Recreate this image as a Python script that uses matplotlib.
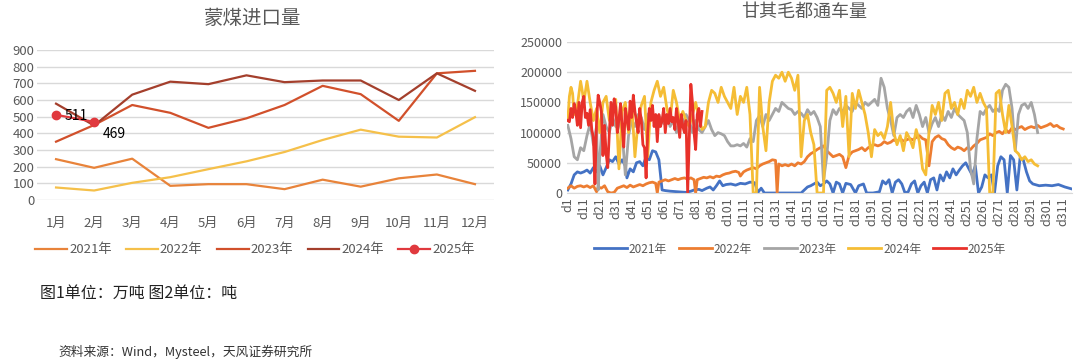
import matplotlib.pyplot as plt
import numpy as np

plt.rcParams['font.family'] = ['Noto Sans CJK SC', 'DejaVu Sans']

# 图1 蒙煤进口量 (万吨)
months = [f"{m}月" for m in range(1, 13)]
imp_2021 = [245, 193, 248, 85, 95, 95, 65, 122, 80, 130, 153, 95]
imp_2022 = [75, 57, 103, 137, 185, 232, 288, 360, 422, 380, 375, 497]
imp_2023 = [350, 450, 570, 523, 433, 490, 570, 685, 635, 475, 760, 775]
imp_2024 = [578, 447, 632, 710, 695, 748, 707, 717, 717, 600, 760, 655]
imp_2025 = [511, 469]

# 图2 甘其毛都通车量 (千吨, 按日)
days_2021 = [1, 3, 5, 7, 9, 11, 13, 15, 17, 19, 21, 23, 25, 27, 29, 31, 33, 35, 37, 38, 40, 42, 44, 46, 48,
             50, 52, 54, 56, 58, 60, 62, 65, 70, 75, 78, 80, 83, 85, 88, 90, 92, 94, 96, 98, 100, 103, 106,
             109, 112, 115, 118, 120, 122, 124, 130, 140, 147, 149, 151, 153, 155, 157, 159, 161, 163, 165,
             167, 169, 171, 173, 175, 178, 181, 183, 186, 188, 192, 196, 198, 200, 202, 204, 206, 208, 210,
             212, 214, 216, 218, 220, 222, 224, 226, 228, 230, 232, 234, 236, 238, 240, 242, 244, 246, 248,
             250, 252, 254, 256, 258, 260, 262, 264, 266, 268, 270, 272, 274, 276, 278, 280, 282, 284, 286,
             288, 290, 292, 296, 300, 304, 308, 312, 316]
vals_2021 = [5, 15, 30, 35, 33, 35, 38, 33, 42, 35, 45, 30, 42, 55, 52, 60, 48, 55, 45, 25, 40, 35, 50, 52, 45,
             60, 55, 70, 68, 55, 5, 4, 3, 2, 1, 3, 5, 6, 4, 8, 10, 5, 12, 20, 12, 14, 15, 13,
             16, 15, 18, 17, 1, 8, 0, 0, 0, 0, 5, 10, 12, 15, 18, 12, 15, 20, 15,
             0, 18, 15, 0, 16, 14, 0, 12, 15, 0, 0, 2, 20, 15, 22, 0, 18, 22, 15,
             0, 2, 15, 20, 0, 12, 18, 0, 22, 25, 5, 30, 20, 35, 25, 40, 30, 38, 45,
             50, 40, 30, 45, 0, 10, 30, 25, 30, 0, 45, 60, 55, 0, 62, 55, 5, 58, 55,
             35, 20, 15, 12, 13, 12, 14, 10, 7]

days_2022 = [1, 3, 5, 7, 9, 11, 13, 15, 17, 19, 20, 22, 24, 26, 28, 30, 32, 34, 36, 38, 40, 42, 44, 46, 48,
             50, 52, 54, 56, 57, 58, 60, 62, 64, 66, 68, 70, 72, 74, 76, 78, 80, 81, 82, 84, 86, 88, 90, 92,
             94, 96, 98, 100, 102, 104, 106, 108, 109, 111, 113, 115, 117, 119, 121, 123, 125, 127, 129, 131,
             132, 133, 135, 137, 139, 141, 143, 145, 147, 149, 151, 153, 155, 157, 159, 161, 163, 165, 167,
             169, 171, 173, 175, 177, 179, 181, 183, 185, 187, 189, 191, 193, 195, 197, 199, 201, 203, 205,
             207, 209, 211, 213, 215, 217, 219, 221, 223, 225, 227, 229, 231, 233, 235, 237, 239, 241, 243,
             245, 247, 249, 251, 253, 255, 257, 259, 261, 263, 265, 267, 269, 271, 273, 275, 277, 279, 281,
             283, 285, 287, 289, 291, 293, 295, 297, 299, 301, 303, 305, 307, 309, 311]
vals_2022 = [8, 12, 8, 11, 12, 10, 12, 9, 12, 2, 10, 8, 12, 2, 0, 1, 8, 10, 12, 9, 13, 10, 12, 14, 12,
             15, 17, 18, 16, 0, 18, 20, 22, 20, 22, 24, 22, 24, 25, 23, 25, 22, 0, 22, 24, 26, 25, 27, 25,
             28, 27, 30, 32, 33, 35, 36, 34, 28, 35, 38, 40, 42, 40, 45, 48, 50, 52, 55, 54,
             0, 48, 45, 47, 45, 48, 45, 50, 48, 52, 60, 65, 68, 72, 75, 78, 70, 65, 60,
             62, 64, 60, 42, 62, 68, 70, 72, 75, 70, 75, 78, 80, 78, 80, 85, 82, 84, 88,
             85, 90, 86, 88, 90, 88, 92, 95, 90, 88, 45, 85, 92, 95, 90, 88, 80, 75, 72,
             76, 74, 70, 75, 72, 78, 82, 88, 90, 92, 98, 95, 100, 102, 98, 105, 100, 108, 105,
             108, 110, 105, 108, 110, 108, 112, 108, 110, 112, 115, 110, 112, 108, 106]

days_2023 = [1, 3, 5, 7, 9, 11, 13, 15, 17, 19, 20, 21, 23, 25, 27, 29, 31, 33, 35, 37, 39, 41, 43, 45, 47,
             49, 51, 53, 55, 57, 59, 61, 63, 65, 67, 69, 71, 73, 75, 77, 79, 81, 83, 85, 87, 89, 91, 93, 95,
             97, 99, 101, 103, 105, 107, 109, 111, 113, 115, 117, 119, 121, 123, 125, 127, 129, 131, 133, 135,
             137, 139, 141, 143, 145, 147, 149, 151, 153, 155, 157, 159, 161, 163, 165, 167, 169, 171, 173,
             175, 177, 179, 181, 183, 185, 187, 189, 191, 193, 195, 197, 199, 201, 203, 205, 207, 209, 211,
             213, 215, 217, 219, 221, 223, 225, 227, 229, 231, 233, 235, 237, 239, 241, 243, 245, 247, 249,
             251, 253, 255, 257, 259, 261, 263, 265, 267, 269, 271, 273, 275, 277, 279, 281, 283, 285, 287,
             289, 291, 293, 295]
vals_2023 = [112, 90, 60, 55, 75, 70, 95, 115, 80, 110, 5, 60, 130, 110, 100, 125, 110, 120, 100, 30, 95, 120,
             110, 130, 125, 105, 130, 135, 120, 105, 125, 115, 130, 110, 120, 100, 125, 115, 130, 120, 100,
             120, 105, 100, 110, 120, 105, 95, 100, 98, 95, 85, 78, 78, 80, 78, 82, 76, 90, 85, 120, 128,
             110, 130, 120, 130, 140, 135, 150, 145, 140, 138, 130, 135, 132, 125, 138, 130, 135, 125, 110,
             20, 60, 120, 138, 130, 140, 135, 145, 140, 135, 150, 145, 140, 150, 145, 150, 155, 145, 190,
             175, 140, 120, 95, 125, 130, 125, 135, 140, 125, 145, 130, 110, 125, 100, 115, 125, 110, 130,
             120, 135, 125, 140, 130, 125, 120, 100, 40, 15, 90, 135, 130, 140, 145, 135, 140, 135, 170,
             180, 175, 140, 70, 130, 145, 148, 140, 150, 130, 100]

days_2024 = [1, 2, 3, 4, 5, 7, 9, 10, 11, 13, 15, 17, 19, 21, 23, 25, 27, 29, 31, 33, 35, 37, 39, 41, 43,
             45, 47, 49, 51, 53, 55, 57, 59, 61, 63, 65, 67, 69, 71, 73, 75, 77, 79, 81, 83, 85, 87, 89, 91,
             93, 95, 97, 99, 101, 103, 105, 107, 109, 111, 113, 115, 117, 119, 121, 123, 125, 127, 129, 131,
             133, 135, 137, 139, 141, 143, 145, 147, 149, 151, 153, 155, 157, 159, 161, 163, 165, 167, 169,
             171, 173, 175, 177, 179, 181, 183, 185, 187, 189, 191, 193, 195, 197, 199, 201, 203, 205, 207,
             209, 211, 213, 215, 217, 219, 221, 223, 225, 227, 229, 231, 233, 235, 237, 239, 241, 243, 245,
             247, 249, 251, 253, 255, 257, 259, 261, 263, 265, 267, 269, 271, 273, 275, 277, 279, 281, 283,
             285, 287, 289, 291, 293, 295]
vals_2024 = [120, 160, 175, 165, 130, 145, 185, 170, 150, 185, 150, 120, 140, 100, 150, 160, 120, 135, 155,
             40, 135, 150, 100, 150, 60, 120, 145, 160, 60, 150, 170, 185, 160, 175, 140, 120, 170, 150,
             120, 135, 120, 110, 130, 150, 125, 105, 110, 150, 170, 165, 150, 175, 160, 150, 140, 175, 130,
             160, 150, 175, 130, 0, 0, 175, 110, 70, 150, 185, 195, 190, 200, 185, 200, 190, 170, 195, 60,
             120, 130, 100, 80, 0, 0, 0, 170, 175, 165, 150, 170, 110, 160, 60, 165, 140, 170, 150, 130,
             100, 60, 105, 95, 100, 90, 110, 150, 100, 80, 95, 70, 100, 90, 75, 105, 85, 40, 30, 100, 145,
             130, 150, 120, 165, 170, 140, 150, 130, 155, 140, 170, 160, 175, 150, 165, 150, 140, 0, 0, 165,
             170, 130, 100, 145, 110, 70, 65, 55, 60, 52, 55, 48, 45]

vals_2025 = [120, 118, 140, 125, 148, 135, 112, 150, 108, 150,
             160, 125, 132, 112, 138, 105, 92, 15, 120, 162,
             150, 135, 62, 112, 65, 42, 100, 150, 112, 156,
             142, 100, 122, 148, 110, 76, 140, 122, 105, 152,
             125, 162, 135, 118, 100, 140, 120, 80, 75, 25,
             100, 140, 120, 145, 110, 130, 85, 130, 110, 120,
             140, 100, 130, 115, 140, 118, 125, 105, 140, 120,
             92, 130, 110, 100, 120, 0, 90, 180, 150, 100,
             72, 130, 140, 110, 135]
days_2025 = list(range(1, len(vals_2025) + 1))

day_labels = [f"d{d}" for d in range(1, 312, 10)]

grey = '#595959'
grid_c = '#d9d9d9'

fig = plt.figure(figsize=(10.8, 3.63), dpi=100)

# ---------- 左图 ----------
ax1 = fig.add_axes([37 / 1080, 1 - 200 / 363, 457 / 1080, 150 / 363])
x = np.arange(1, 13)
ax1.plot(x, imp_2021, color='#e8833a', lw=1.6, label='2021年')
ax1.plot(x, imp_2022, color='#f5c04a', lw=1.6, label='2022年')
ax1.plot(x, imp_2023, color='#d1502b', lw=1.6, label='2023年')
ax1.plot(x, imp_2024, color='#a43f2c', lw=1.6, label='2024年')
ax1.plot(x[:len(imp_2025)], imp_2025, color='#e0393e', lw=1.6, marker='o', ms=6, label='2025年')
ax1.annotate(f"{imp_2025[0]}", (1, imp_2025[0]), xytext=(6, -1), textcoords='offset points',
             ha='left', va='center', fontsize=10, color='black')
ax1.annotate(f"{imp_2025[1]}", (2, imp_2025[1]), xytext=(6, -9), textcoords='offset points',
             ha='left', va='center', fontsize=10, color='black')
ax1.set_xlim(0.5, 12.5)
ax1.set_ylim(0, 900)
ax1.set_yticks(range(0, 901, 100))
ax1.set_xticks(x)
ax1.set_xticklabels(months)
ax1.grid(axis='y', color=grid_c, lw=1)
ax1.set_axisbelow(True)
for s in ax1.spines.values():
    s.set_visible(False)
ax1.tick_params(length=0, labelsize=9.5, colors=grey)
ax1.tick_params(axis='x', pad=12)
ax1.tick_params(axis='y', pad=2)
fig.text(253 / 1080, 1 - 18 / 363, '蒙煤进口量', ha='center', va='center', fontsize=14, color=grey)
fig.legend(*ax1.get_legend_handles_labels(), loc='center', bbox_to_anchor=(255 / 1080, 1 - 250 / 363),
           ncol=5, frameon=False, fontsize=9.5, labelcolor=grey, handlelength=2.4, columnspacing=1.1,
           handletextpad=0.15)

# ---------- 右图 ----------
ax2 = fig.add_axes([567 / 1080, 1 - 193 / 363, 505 / 1080, 151 / 363])
ax2.plot(days_2021, np.array(vals_2021) * 1000, color='#4472c4', lw=2, label='2021年')
ax2.plot(days_2022, np.array(vals_2022) * 1000, color='#ed7d31', lw=2, label='2022年')
ax2.plot(days_2023, np.array(vals_2023) * 1000, color='#a5a5a5', lw=2, label='2023年')
ax2.plot(days_2024, np.array(vals_2024) * 1000, color='#f5bd35', lw=2, label='2024年')
ax2.plot(days_2025, np.array(vals_2025) * 1000, color='#e8312a', lw=2, label='2025年')
ax2.set_xlim(0.5, 316.5)
ax2.set_ylim(0, 250000)
ax2.set_yticks(range(0, 250001, 50000))
ax2.set_xticks(range(1, 312, 10))
ax2.set_xticklabels(day_labels, rotation=90)
ax2.grid(axis='y', color=grid_c, lw=1)
ax2.set_axisbelow(True)
for s in ax2.spines.values():
    s.set_visible(False)
ax2.spines['bottom'].set_visible(True)
ax2.spines['bottom'].set_color(grid_c)
ax2.tick_params(length=0, labelsize=9, colors=grey)
ax2.tick_params(axis='x', pad=3)
fig.text(804 / 1080, 1 - 12 / 363, '甘其毛都通车量', ha='center', va='center', fontsize=13, color=grey)
fig.legend(*ax2.get_legend_handles_labels(), loc='center', bbox_to_anchor=(800 / 1080, 1 - 249 / 363),
           ncol=5, frameon=False, fontsize=8.5, labelcolor=grey, handlelength=2.8, columnspacing=1.0,
           handletextpad=0.15)

# ---------- 注释 ----------
fig.text(40 / 1080, 1 - 293 / 363, '图1单位：万吨 图2单位：吨', ha='left', va='center', fontsize=11.5,
         color='#222222')
fig.text(58 / 1080, 1 - 352 / 363, '资料来源：Wind，Mysteel，天风证券研究所', ha='left', va='center',
         fontsize=9.2, color='#333333')

fig.savefig('out.png', dpi=100)
